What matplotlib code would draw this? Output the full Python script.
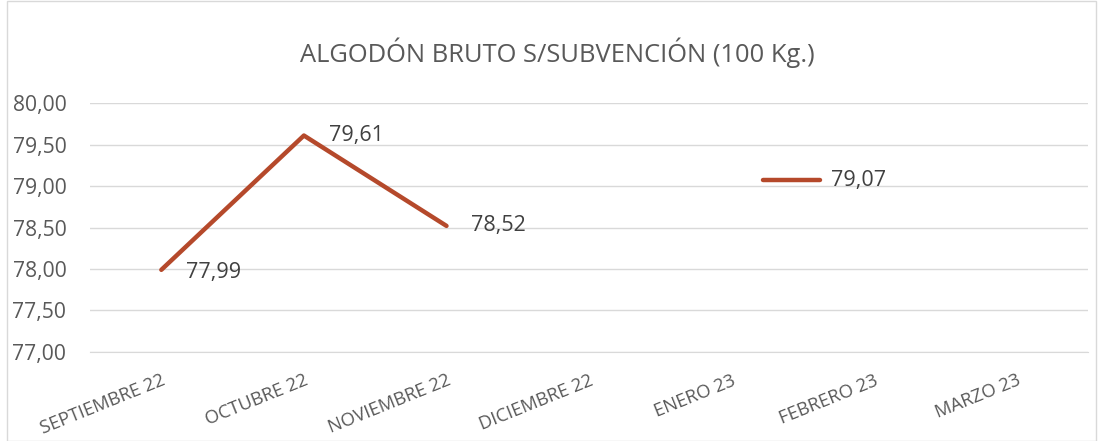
import numpy as np
import matplotlib.pyplot as plt
from matplotlib.patches import Rectangle

plt.rcParams['font.family'] = ['Open Sans', 'DejaVu Sans']

title = 'ALGODÓN BRUTO S/SUBVENCIÓN (100 Kg.)'
months = ['SEPTIEMBRE 22', 'OCTUBRE 22', 'NOVIEMBRE 22', 'DICIEMBRE 22',
          'ENERO 23', 'FEBRERO 23', 'MARZO 23']

# first run of values (one per month)
x_main = [0, 1, 2]
y_main = [77.99, 79.61, 78.52]

# short isolated segment drawn between Enero and Febrero
x_seg = [4.22, 4.62]
y_seg = [79.07, 79.07]

labels_main = ['77,99', '79,61', '78,52']
label_seg = '79,07'

line_c = '#B5492B'
text_c = '#595959'
lab_c = '#404040'
grid_c = '#D9D9D9'

fig = plt.figure(figsize=(10.98, 4.41), dpi=100)
ax = fig.add_axes([0.082, 0.202, 0.909, 0.564])

ax.plot(x_main, y_main, color=line_c, lw=3.2, solid_capstyle='round',
        solid_joinstyle='round')
ax.plot(x_seg, y_seg, color=line_c, lw=3.2, solid_capstyle='round')

# data labels
offsets = [(18, -2), (18, 0), (18, 0)]
for x, y, t, off in zip(x_main, y_main, labels_main, offsets):
    ax.annotate(t, (x, y), xytext=off, textcoords='offset points',
                ha='left', va='center', fontsize=15.5, color=lab_c)
ax.annotate(label_seg, (x_seg[1], y_seg[1]), xytext=(8, 0),
            textcoords='offset points', ha='left', va='center',
            fontsize=15.5, color=lab_c)

ax.set_xlim(-0.5, len(months) - 0.5)
ax.set_ylim(77.0, 80.0)
yt = np.arange(77.0, 80.01, 0.5)
ax.set_yticks(yt)
ax.set_yticklabels([f'{v:.2f}'.replace('.', ',') for v in yt],
                   fontsize=15.2, color=text_c)
ax.set_xticks(range(len(months)))
ax.set_xticklabels(months, rotation=22, ha='right', rotation_mode='anchor',
                   fontsize=13.3, color=text_c)

ax.grid(axis='y', color=grid_c, lw=1)
ax.set_axisbelow(True)
for s in ['top', 'right', 'left']:
    ax.spines[s].set_visible(False)
ax.spines['bottom'].set_color(grid_c)
ax.tick_params(axis='both', length=0)
ax.tick_params(axis='y', pad=17)
ax.tick_params(axis='x', pad=14)

fig.text(0.508, 0.88, title, ha='center', va='center', fontsize=18.4,
         color=text_c)

fig.patches.append(Rectangle((0.006, 0.0), 0.992, 0.998, transform=fig.transFigure,
                             fill=False, ec=grid_c, lw=1))

fig.savefig('out.png', dpi=100)
